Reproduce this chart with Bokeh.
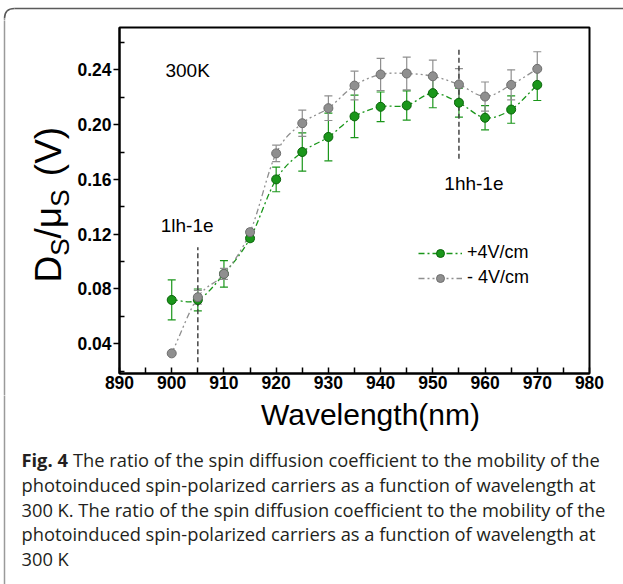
import numpy as np
from bokeh.plotting import figure
from bokeh.layouts import column, row
from bokeh.models import (ColumnDataSource, Whisker, TeeHead, Label, Legend, LegendItem,
                          FixedTicker, PrintfTickFormatter, Range1d)
from bokeh.core.properties import value
from bokeh.embed import file_html
from bokeh.resources import INLINE

# ---------------- data ----------------
wavelength = [900, 905, 910, 915, 920, 925, 930, 935, 940, 945, 950, 955, 960, 965, 970]
pos_val = [0.072, 0.072, 0.091, 0.117, 0.160, 0.180, 0.191, 0.206, 0.213, 0.214, 0.223, 0.216, 0.205, 0.211, 0.229]
pos_err = [0.0146, 0.008, 0.0097, 0.002, 0.009, 0.014, 0.0174, 0.0155, 0.0108, 0.0107, 0.0107, 0.0106, 0.0088, 0.010, 0.0114]
neg_val = [0.033, 0.074, 0.091, 0.1215, 0.179, 0.201, 0.212, 0.2285, 0.2366, 0.2373, 0.2353, 0.2293, 0.2205, 0.229, 0.2407]
neg_err = [0.001, 0.005, 0.004, 0.002, 0.006, 0.0096, 0.009, 0.0105, 0.0117, 0.012, 0.0118, 0.0116, 0.0106, 0.011, 0.0125]

x_ticks = [890, 900, 910, 920, 930, 940, 950, 960, 970, 980]
x_minor = [895, 905, 915, 925, 935, 945, 955, 965, 975]
y_ticks = [0.04, 0.08, 0.12, 0.16, 0.20, 0.24]
y_minor = [0.02, 0.06, 0.10, 0.14, 0.18, 0.22, 0.26]

marker_lines_x = [905, 955]
marker_lines_y0 = [0.0266, 0.175]
marker_lines_y1 = [0.1105, 0.2553]

series_labels = ["+4V/cm", "- 4V/cm"]
x_title = "Wavelength(nm)"
caption_bold = "Fig. 4"
caption_lines = [
    "The ratio of the spin diffusion coefficient to the mobility of the",
    "photoinduced spin-polarized carriers as a function of wavelength at",
    "300 K. The ratio of the spin diffusion coefficient to the mobility of the",
    "photoinduced spin-polarized carriers as a function of wavelength at",
    "300 K",
]

GREEN = "#1a961a"
GREEN_DARK = "#0b640b"
GRAY = "#8f8f8f"
GRAY_DARK = "#6e6e6e"
BORDER_TOP = "#5a5a5a"
BORDER_LEFT = "#9a9a9a"
CAP_COLOR = "#231f20"

W = 623
STRIP_H = 20          # top strip: pixel rows 0..20
YLAB_W = 74           # left label panel width
MAIN_W = W - YLAB_W
MB_TOP, MB_BOTTOM, MB_LEFT, MB_RIGHT = 7, 22, 45, 34
FRAME_H = 346
ROW_H = MB_TOP + FRAME_H + MB_BOTTOM     # 375
ROW_BOTTOM = STRIP_H + ROW_H             # 395
CAP_H = 584 - ROW_BOTTOM


def panel(width, height):
    f = figure(width=width, height=height, output_backend="svg", toolbar_location=None,
               x_range=Range1d(0, width), y_range=Range1d(0, height), min_border=0,
               x_axis_location=None, y_axis_location=None, frame_align=False)
    f.outline_line_color = None
    f.grid.visible = False
    f.background_fill_color = "white"
    f.border_fill_color = "white"
    return f


# ---------------- main chart ----------------
p = figure(width=MAIN_W, height=ROW_H, output_backend="svg", toolbar_location=None,
           x_range=Range1d(890, 980), y_range=Range1d(0.0183, 0.2709),
           min_border_left=MB_LEFT, min_border_right=MB_RIGHT, min_border_top=MB_TOP,
           min_border_bottom=MB_BOTTOM, frame_align=False)
p.background_fill_color = "white"
p.border_fill_color = "white"
p.grid.visible = False
p.outline_line_color = "black"
p.outline_line_width = 2

xa = p.xaxis[0]
xa.ticker = FixedTicker(ticks=x_ticks, minor_ticks=x_minor)
xa.major_tick_in = 6
xa.major_tick_out = 0
xa.minor_tick_in = 6
xa.minor_tick_out = 0
xa.major_label_standoff = 2
ya = p.yaxis[0]
ya.ticker = FixedTicker(ticks=y_ticks, minor_ticks=y_minor)
ya.formatter = PrintfTickFormatter(format="%.2f")
ya.major_tick_in = 0
ya.major_tick_out = 6
ya.minor_tick_in = 5
ya.minor_tick_out = 0
ya.major_label_standoff = 2
for ax in (xa, ya):
    ax.axis_line_color = "black"
    ax.axis_line_width = 2
    ax.major_tick_line_color = "black"
    ax.major_tick_line_width = 1.5
    ax.minor_tick_line_color = "black"
    ax.minor_tick_line_width = 1.5
    ax.major_label_text_font = "Liberation Sans"
    ax.major_label_text_font_style = "bold"
    ax.major_label_text_font_size = "17.5px"
    ax.major_label_text_color = "black"


def bezier_source(xs, ys):
    """Smooth Catmull-Rom curve through the data points, as cubic Bezier segments."""
    xs = np.asarray(xs, float)
    ys = np.asarray(ys, float)
    px = np.concatenate([[2 * xs[0] - xs[1]], xs, [2 * xs[-1] - xs[-2]]])
    py = np.concatenate([[2 * ys[0] - ys[1]], ys, [2 * ys[-1] - ys[-2]]])
    i = np.arange(1, len(xs))
    return ColumnDataSource(dict(
        x0=px[i], y0=py[i], x1=px[i + 1], y1=py[i + 1],
        cx0=px[i] + (px[i + 1] - px[i - 1]) / 6, cy0=py[i] + (py[i + 1] - py[i - 1]) / 6,
        cx1=px[i + 1] - (px[i + 2] - px[i]) / 6, cy1=py[i + 1] - (py[i + 2] - py[i]) / 6,
    ))


GREEN_DASH = "6 3 2 3"
GRAY_DASH = "6 3 2 3 2 3"
BZ = dict(x0="x0", y0="y0", x1="x1", y1="y1", cx0="cx0", cy0="cy0", cx1="cx1", cy1="cy1")

p.bezier(source=bezier_source(wavelength, pos_val), line_color=GREEN, line_width=1.3,
         line_dash=GREEN_DASH, **BZ)
p.bezier(source=bezier_source(wavelength, neg_val), line_color=GRAY, line_width=1.3,
         line_dash=GRAY_DASH, **BZ)

p.segment(x0=marker_lines_x, y0=marker_lines_y0, x1=marker_lines_x, y1=marker_lines_y1,
          line_color="#444444", line_width=1.5, line_dash="5 3")

pos_src = ColumnDataSource(dict(x=wavelength, y=pos_val,
                                lo=[v - e for v, e in zip(pos_val, pos_err)],
                                hi=[v + e for v, e in zip(pos_val, pos_err)]))
neg_src = ColumnDataSource(dict(x=wavelength, y=neg_val,
                                lo=[v - e for v, e in zip(neg_val, neg_err)],
                                hi=[v + e for v, e in zip(neg_val, neg_err)]))

for src, col in ((pos_src, GREEN), (neg_src, GRAY)):
    p.add_layout(Whisker(base="x", upper="hi", lower="lo", source=src, line_color=col,
                         line_width=1.2,
                         upper_head=TeeHead(size=8, line_color=col, line_width=1.2),
                         lower_head=TeeHead(size=8, line_color=col, line_width=1.2)))

gs = p.scatter("x", "y", source=pos_src, size=9, fill_color=GREEN, line_color=GREEN_DARK, line_width=1)
ns = p.scatter("x", "y", source=neg_src, size=9, fill_color=GRAY, line_color=GRAY_DARK, line_width=1)

# legend line samples (a single NaN point so nothing shows in the plot)
gl = p.line(x=[np.nan], y=[np.nan], line_color=GREEN, line_width=1.3, line_dash=GREEN_DASH)
nl = p.line(x=[np.nan], y=[np.nan], line_color=GRAY, line_width=1.3, line_dash=GRAY_DASH)
legend = Legend(items=[LegendItem(label=series_labels[0], renderers=[gl, gs]),
                       LegendItem(label=series_labels[1], renderers=[nl, ns])],
                location=(299, 85), glyph_width=44, glyph_height=20, label_height=20,
                spacing=4, padding=0, margin=0, border_line_color=None,
                background_fill_alpha=0, label_text_font="Liberation Sans",
                label_text_font_size="18px", label_text_color="black", label_standoff=5)
p.add_layout(legend)

for txt, x, y in (("300K", 898.8, 0.2395), ("1hh-1e", 952.2, 0.157), ("1lh-1e", 897.9, 0.1264)):
    p.add_layout(Label(x=x, y=y, text=txt, text_font="Liberation Sans", text_font_size="19px",
                       text_align="left", text_baseline="middle", text_color="black"))

# ---------------- top strip with rounded border corner ----------------
top = panel(W, STRIP_H)
R = 10
top.quadratic(x0=[4], y0=[STRIP_H - (8 + R)], x1=[4 + R], y1=[STRIP_H - 8], cx=[4], cy=[STRIP_H - 8],
              line_color=BORDER_TOP, line_width=1.5)
top.segment(x0=[4 + R], y0=[STRIP_H - 8], x1=[W], y1=[STRIP_H - 8], line_color=BORDER_TOP, line_width=1.5)
top.segment(x0=[4], y0=[STRIP_H - (8 + R)], x1=[4], y1=[-1], line_color=BORDER_LEFT, line_width=1.5)

# ---------------- left panel with the y title ----------------
ylab = panel(YLAB_W, ROW_H)
ylab.segment(x0=[4], y0=[-1], x1=[4], y1=[ROW_H + 1], line_color=BORDER_LEFT, line_width=1.5)
MAIN, SUB = 37, 26
pieces = [("D", MAIN, 0.722, 48), ("S", SUB, 0.667, 59), ("/", MAIN, 0.278, 48),
          ("\u03bc", MAIN, 0.576, 48), ("S", SUB, 0.667, 59), (" ", MAIN, 0.36, None),
          ("(V)", MAIN, 1.333, 48)]
ypix = 282.0
for txt, fs, wem, xc in pieces:
    if xc is not None:
        ylab.text(x=[xc], y=[ROW_BOTTOM - ypix], text=[txt], angle=np.pi / 2,
                  text_font=value("Liberation Sans"), text_font_size=value(f"{fs}px"),
                  text_align="left", text_baseline="middle", text_color="black")
    ypix -= wem * fs

# ---------------- bottom panel: x title and caption ----------------
cap = panel(W, CAP_H)
cap.segment(x0=[4], y0=[-1], x1=[4], y1=[CAP_H + 1], line_color=BORDER_LEFT, line_width=1.5)
cap.text(x=[370], y=[584 - 414], text=[x_title], text_font=value("Liberation Sans"),
         text_font_size=value("30px"), text_align="center", text_baseline="middle",
         text_color="black")
centers = [459, 483.75, 508.5, 533.25, 558]
CAP_FONT = value("Open Sans")
CAP_SIZE = value("18.3px")
cap.text(x=[21], y=[584 - centers[0]], text=[caption_bold], text_font=CAP_FONT,
         text_font_size=CAP_SIZE, text_font_style="bold", text_color=CAP_COLOR,
         text_baseline="middle", text_align="left")
cap.text(x=[72.5 if k == 0 else 21 for k in range(len(caption_lines))],
         y=[584 - c for c in centers], text=caption_lines, text_font=CAP_FONT,
         text_font_size=CAP_SIZE, text_color=CAP_COLOR, text_baseline="middle",
         text_align="left")

layout = column(top, row(ylab, p, spacing=0), cap, spacing=0)
open("out.html", "w").write(file_html(layout, INLINE))
